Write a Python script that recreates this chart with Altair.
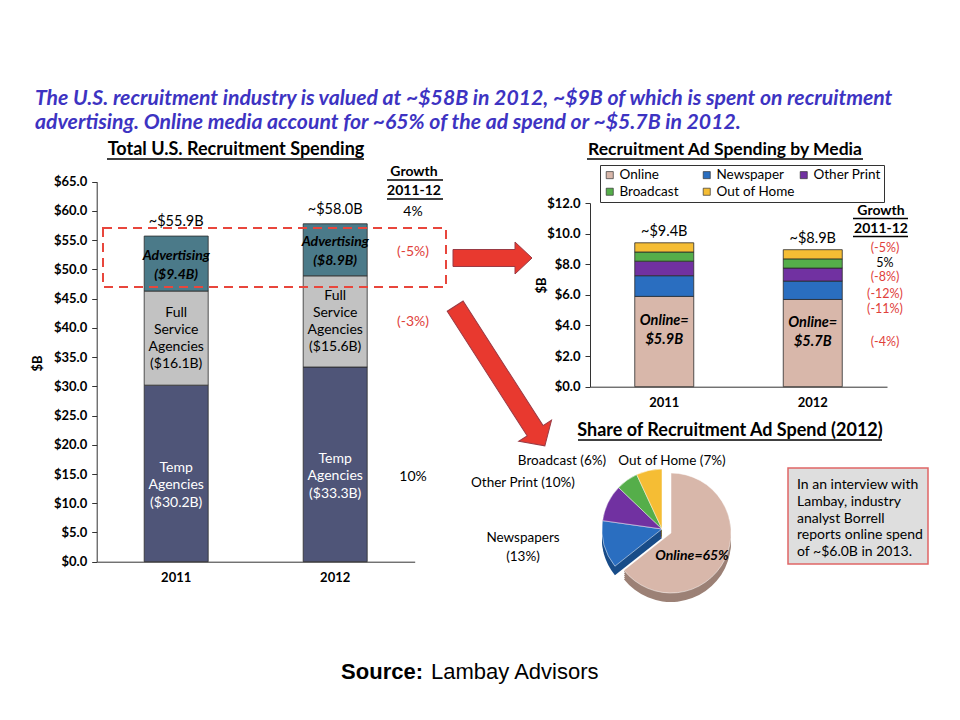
import math
import altair as alt
import pandas as pd

W, H = 944, 704
M = 8  # page margin: reference pixel -> chart pixel


def X(v):
    return v - M


def Y(v):
    return v - M


FONT = "Lato"
HEAD_COLOR = "#3d33c2"
RED = "#e0403a"

# ---------------- data ----------------
HEADLINE = [
    "The U.S. recruitment industry is valued at ~$58B in 2012, ~$9B of which is spent on recruitment",
    "advertising.  Online media account for ~65% of the ad spend or ~$5.7B in 2012.",
]

YEARS = ["2011", "2012"]
LEFT_SEGMENTS = ["Temp Agencies", "Full Service Agencies", "Advertising"]
LEFT_2011 = [30.2, 16.1, 9.4]
LEFT_2012 = [33.3, 15.6, 8.9]
LEFT_SEG_WORDS = [["Temp", "Agencies"], ["Full", "Service", "Agencies"], ["Advertising"]]
LEFT_TOTALS = ["~$55.9B", "~$58.0B"]
LEFT_GROWTH = ["4%", "(-5%)", "(-3%)", "10%"]
LEFT_TICKS = [0, 5, 10, 15, 20, 25, 30, 35, 40, 45, 50, 55, 60, 65]
LEFT_COLORS = ["#4f5578", "#c2c2c2", "#4b7a89"]

MEDIA = ["Online", "Newspaper", "Other Print", "Broadcast", "Out of Home"]
MEDIA_2011 = [5.9, 1.35, 0.95, 0.6, 0.6]
MEDIA_2012 = [5.7, 1.2, 0.85, 0.6, 0.6]
MEDIA_TOTALS = ["~$9.4B", "~$8.9B"]
MEDIA_GROWTH = ["(-5%)", "5%", "(-8%)", "(-12%)", "(-11%)", "(-4%)"]
RIGHT_TICKS = [0, 2, 4, 6, 8, 10, 12]
MEDIA_COLORS = ["#d8b7aa", "#2a6ec0", "#7131a1", "#55ae4a", "#f5bd34"]
MEDIA_DARK = ["#9c8176", "#184c88", "#4b1f6b", "#37762f", "#b88a1f"]
LEGEND_ORDER = ["Online", "Broadcast", "Newspaper", "Out of Home", "Other Print"]

PIE_SHARE = [65, 13, 10, 6, 7]
PIE_LABELS = ["Online=65%", "Newspapers\n(13%)", "Other Print (10%)", "Broadcast (6%)", "Out of Home (7%)"]

NOTE_LINES = ["In an interview with", "Lambay, industry", "analyst Borrell",
              "reports online spend", "of ~$6.0B in 2013."]
SOURCE_BOLD = "Source:"
SOURCE_REST = "Lambay Advisors"

# ---------------- helpers ----------------
ONE = pd.DataFrame({"k": [0]})


def text_layer(s, x, y, size=14, weight="normal", style="normal", color="black",
               align="center", baseline="middle", font=FONT, line_height=None):
    """Single text item; for multi-line text, y is the centre of the first line."""
    mk = dict(align=align, baseline=baseline, fontSize=size, fontWeight=weight,
              fontStyle=style, color=color, font=font, lineBreak="\n")
    if line_height:
        mk["lineHeight"] = line_height
    return alt.Chart(pd.DataFrame({"t": [s]})).mark_text(**mk).encode(
        x=alt.value(X(x)), y=alt.value(Y(y)), text="t:N")


def underline(x1, x2, y, w=1.3):
    return alt.Chart(ONE).mark_rule(color="black", strokeWidth=w).encode(
        x=alt.value(X(x1)), x2=alt.value(X(x2)), y=alt.value(Y(y)))


layers = []

# ---------------- headline ----------------
layers.append(text_layer("\n".join(HEADLINE), 35, 99, size=21.2, weight="bold", style="italic",
                         color=HEAD_COLOR, align="left", line_height=24))

# ---------------- left chart ----------------
rows = []
for yr, vals in zip(YEARS, [LEFT_2011, LEFT_2012]):
    for i, seg in enumerate(LEFT_SEGMENTS):
        v = vals[i]
        rows.append(dict(year=yr, seg=seg, idx=i, value=v,
                         label="\n".join(LEFT_SEG_WORDS[i] + [f"(${v:.1f}B)"])))
left_df = pd.DataFrame(rows)

LX = alt.Scale(domain=YEARS, range=[X(96.7), X(414.7)], paddingInner=0, paddingOuter=0)
LY = alt.Scale(domain=[0, 65], range=[Y(561.7), Y(181.7)], nice=False, zero=False)

left_base = alt.Chart(left_df).transform_stack(
    stack="value", groupby=["year"], as_=["y0", "y1"],
    sort=[alt.SortField("idx", order="ascending")]
).transform_calculate(mid="(datum.y0 + datum.y1) / 2")

left_bars = left_base.mark_bar(size=64, stroke="#2b2b2b", strokeWidth=0.8).encode(
    x=alt.X("year:N", scale=LX, axis=alt.Axis(
        orient="bottom", offset=Y(561.7) - H, ticks=False, labelPadding=10, title=None,
        labelAngle=0, labelFont=FONT, labelFontSize=13, labelFontWeight="bold",
        labelColor="black", domainColor="#333", domainWidth=1)),
    y=alt.Y("y0:Q", scale=LY, axis=alt.Axis(
        orient="left", offset=-X(96.7), values=LEFT_TICKS, format="$.1f", grid=False,
        tickSize=5, tickColor="#333", labelPadding=5, labelFont=FONT, labelFontSize=13,
        labelFontWeight="bold", labelColor="black", domainColor="#333", domainWidth=1,
        title="$B", titleFont=FONT, titleFontSize=13, titleFontWeight="bold",
        titleColor="black", titleAngle=270, titleAlign="center", titleBaseline="middle",
        titleX=X(38) - X(96.7), titleY=Y(363))),
    y2="y1:Q",
    color=alt.Color("seg:N", scale=alt.Scale(domain=LEFT_SEGMENTS, range=LEFT_COLORS), legend=None),
)
layers.append(left_bars)


def left_seg_text(idx, **mk):
    return left_base.transform_filter(f"datum.idx == {idx}").mark_text(
        font=FONT, lineBreak="\n", baseline="middle", **mk).encode(
        x=alt.X("year:N", scale=LX, axis=None),
        y=alt.Y("mid:Q", scale=LY, axis=None),
        text="label:N")


# multi-line blocks: shift up by half the block so they sit centred
layers.append(left_seg_text(0, color="white", fontSize=14, lineHeight=17.5, dy=12 - 17.5))
layers.append(left_seg_text(1, color="black", fontSize=14, lineHeight=17, dy=-25.5))
layers.append(left_seg_text(2, color="black", fontSize=14, fontWeight="bold",
                            fontStyle="italic", lineHeight=19, dy=-7.5))

left_tot = pd.DataFrame({"year": YEARS, "total": [sum(LEFT_2011), sum(LEFT_2012)],
                         "label": LEFT_TOTALS})
layers.append(alt.Chart(left_tot).mark_text(font=FONT, fontSize=14.5, dy=-14, baseline="middle").encode(
    x=alt.X("year:N", scale=LX, axis=None),
    y=alt.Y("total:Q", scale=LY, axis=None),
    text="label:N"))

# dashed box around advertising
layers.append(alt.Chart(ONE).mark_rect(filled=False, stroke="#e8463c", strokeWidth=2,
                                       strokeDash=[9, 6]).encode(
    x=alt.value(X(103)), x2=alt.value(X(446)), y=alt.value(Y(228)), y2=alt.value(Y(287))))

# titles / growth column (left)
layers.append(text_layer("Total U.S. Recruitment Spending", 236, 150, size=18, weight="bold"))
layers.append(underline(107, 364, 159))
layers.append(text_layer("Growth", 414, 172, size=14, weight="bold"))
layers.append(underline(387, 443, 180))
layers.append(text_layer("2011-12", 414, 191, size=14, weight="bold"))
layers.append(underline(387, 443, 199))
for s, yy, col in zip(LEFT_GROWTH, [212, 252, 322, 477], ["black", RED, RED, "black"]):
    layers.append(text_layer(s, 413, yy, size=14, color=col))

# ---------------- arrows ----------------
ARROW1 = "M-1,-0.215L0.57,-0.215L0.57,-0.405L1,0L0.57,0.405L0.57,0.215L-1,0.215Z"
ARROW2 = "M-1,-0.114L0.783,-0.114L0.783,-0.235L1,0L0.783,0.235L0.783,0.114L-1,0.114Z"
layers.append(alt.Chart(ONE).mark_point(shape=ARROW1, filled=True, fill="#e8392f", stroke="#9a3a44",
                                        strokeWidth=1, opacity=1, size=79 ** 2).encode(
    x=alt.value(X(492.5)), y=alt.value(Y(258))))
layers.append(alt.Chart(ONE).mark_point(shape=ARROW2, filled=True, fill="#e8392f", stroke="#9a3a44",
                                        strokeWidth=1, opacity=1, size=166 ** 2,
                                        angle=57.3).encode(
    x=alt.value(X(500)), y=alt.value(Y(376))))

# ---------------- right chart ----------------
rows = []
for yr, vals in zip(YEARS, [MEDIA_2011, MEDIA_2012]):
    for i, cat in enumerate(MEDIA):
        rows.append(dict(year=yr, cat=cat, idx=i, value=vals[i],
                         label=f"Online=\n${vals[i]:.1f}B"))
right_df = pd.DataFrame(rows)

RX = alt.Scale(domain=YEARS, range=[X(590), X(887)], paddingInner=0, paddingOuter=0)
RY = alt.Scale(domain=[0, 12], range=[Y(386.7), Y(203)], nice=False, zero=False)

right_base = alt.Chart(right_df).transform_stack(
    stack="value", groupby=["year"], as_=["y0", "y1"],
    sort=[alt.SortField("idx", order="ascending")]
).transform_calculate(mid="(datum.y0 + datum.y1) / 2")

right_bars = right_base.mark_bar(size=59, stroke="#2b2b2b", strokeWidth=0.8).encode(
    x=alt.X("year:N", scale=RX, axis=alt.Axis(
        orient="bottom", offset=Y(386.7) - H, ticks=False, labelPadding=10, title=None,
        labelAngle=0, labelFont=FONT, labelFontSize=13, labelFontWeight="bold",
        labelColor="black", domainColor="#333", domainWidth=1)),
    y=alt.Y("y0:Q", scale=RY, axis=alt.Axis(
        orient="left", offset=-X(590), values=RIGHT_TICKS, format="$.1f", grid=False,
        tickSize=5, tickColor="#333", labelPadding=5, labelFont=FONT, labelFontSize=13,
        labelFontWeight="bold", labelColor="black", domainColor="#333", domainWidth=1,
        title="$B", titleFont=FONT, titleFontSize=13, titleFontWeight="bold",
        titleColor="black", titleAngle=270, titleAlign="center", titleBaseline="middle",
        titleX=X(541) - X(590), titleY=Y(285))),
    y2="y1:Q",
    color=alt.Color("cat:N", scale=alt.Scale(domain=MEDIA, range=MEDIA_COLORS), legend=alt.Legend(
        orient="none", legendX=X(600), legendY=Y(165), columns=3, title=None,
        values=LEGEND_ORDER,
        symbolType="square", symbolSize=50, symbolStrokeColor="#333", symbolStrokeWidth=0.7,
        labelFont=FONT, labelFontSize=13.5, labelColor="black", labelOffset=3,
        strokeColor="#333", fillColor="white", padding=3, rowPadding=2,
        columnPadding=2, gridAlign="all")),
)
layers.append(right_bars)

layers.append(right_base.transform_filter("datum.idx == 0").mark_text(
    font=FONT, lineBreak="\n", baseline="middle", fontSize=14.5, fontWeight="bold",
    fontStyle="italic", lineHeight=19, dy=-11 - 9.5, color="black").encode(
    x=alt.X("year:N", scale=RX, axis=None),
    y=alt.Y("mid:Q", scale=RY, axis=None),
    text="label:N"))

right_tot = pd.DataFrame({"year": YEARS, "total": [sum(MEDIA_2011), sum(MEDIA_2012)],
                          "label": MEDIA_TOTALS})
layers.append(alt.Chart(right_tot).mark_text(font=FONT, fontSize=14.5, dy=-11, baseline="middle").encode(
    x=alt.X("year:N", scale=RX, axis=None),
    y=alt.Y("total:Q", scale=RY, axis=None),
    text="label:N"))

layers.append(text_layer("Recruitment Ad Spending by Media", 725, 150, size=17.5, weight="bold"))
layers.append(underline(587, 863, 159))
layers.append(text_layer("Growth", 881, 211, size=14, weight="bold"))
layers.append(underline(853, 908, 218.5))
layers.append(text_layer("2011-12", 881, 229, size=14, weight="bold"))
layers.append(underline(853, 908, 236.5))
for s, yy, col in zip(MEDIA_GROWTH, [248, 263, 277, 294, 309, 342],
                      [RED, "black", RED, RED, RED, RED]):
    layers.append(text_layer(s, 885, yy, size=12.5, color=col))

# ---------------- pie ----------------
pie_df = pd.DataFrame({"cat": MEDIA, "idx": list(range(len(MEDIA))), "share": PIE_SHARE})
pie_base = alt.Chart(pie_df).transform_window(
    end="sum(share)", sort=[alt.SortField("idx", order="ascending")], frame=[None, 0]
).transform_calculate(start="datum.end - datum.share")
TH = alt.Scale(domain=[0, sum(PIE_SHARE)], range=[0, 2 * math.pi])
CX, CY, R = 662, 529, 60
EX, EY = 9, 4
DEPTH = [9, 7, 5, 3, 1]


def pie_layer(expr, cx, cy, colors, stroke=True):
    mk = dict(radius=R)
    if stroke:
        mk.update(stroke="#ffffff", strokeWidth=0.5)
    return pie_base.transform_filter(expr).mark_arc(**mk).encode(
        theta=alt.Theta("start:Q", scale=TH, stack=None),
        theta2="end:Q",
        color=alt.Color("cat:N", scale=alt.Scale(domain=MEDIA, range=colors), legend=None),
        x=alt.value(X(cx)), y=alt.value(Y(cy)))


for d in DEPTH:
    layers.append(pie_layer("datum.idx != 0", CX, CY + d, MEDIA_DARK, stroke=False))
layers.append(pie_layer("datum.idx != 0", CX, CY, MEDIA_COLORS))
for d in DEPTH:
    layers.append(pie_layer("datum.idx == 0", CX + EX, CY + EY + d, MEDIA_DARK, stroke=False))
layers.append(pie_layer("datum.idx == 0", CX + EX, CY + EY, MEDIA_COLORS))

layers.append(text_layer("Share of Recruitment Ad Spend (2012)", 730, 431, size=18, weight="bold"))
layers.append(underline(578, 882, 440))
layers.append(text_layer(PIE_LABELS[0], 692, 556, size=14, weight="bold", style="italic"))
layers.append(text_layer(PIE_LABELS[1], 523, 538, size=13.5, line_height=19))
layers.append(text_layer(PIE_LABELS[2], 523, 483, size=13.5))
layers.append(text_layer(PIE_LABELS[3], 562, 461, size=13.5))
layers.append(text_layer(PIE_LABELS[4], 672, 461, size=13.5))

# note box
layers.append(alt.Chart(ONE).mark_rect(fill="#dedede", stroke="#e06666", strokeWidth=1.5).encode(
    x=alt.value(X(788)), x2=alt.value(X(928)), y=alt.value(Y(468)), y2=alt.value(Y(564))))
layers.append(text_layer("\n".join(NOTE_LINES), 797, 485, size=14, align="left", line_height=16.8))

# ---------------- source ----------------
layers.append(text_layer(SOURCE_BOLD, 423, 672, size=22, weight="bold", align="right",
                         font="Liberation Sans"))
layers.append(text_layer(SOURCE_REST, 431, 672, size=22, align="left", font="Liberation Sans"))

chart = alt.layer(*layers).resolve_scale(
    x="independent", y="independent", color="independent", theta="independent"
).properties(
    width=W, height=H, padding=0, autosize=alt.AutoSizeParams(type="none"),
    background="white"
).configure_view(stroke=None)

chart.save("out.html", embed_options={"renderer": "svg", "actions": False})
